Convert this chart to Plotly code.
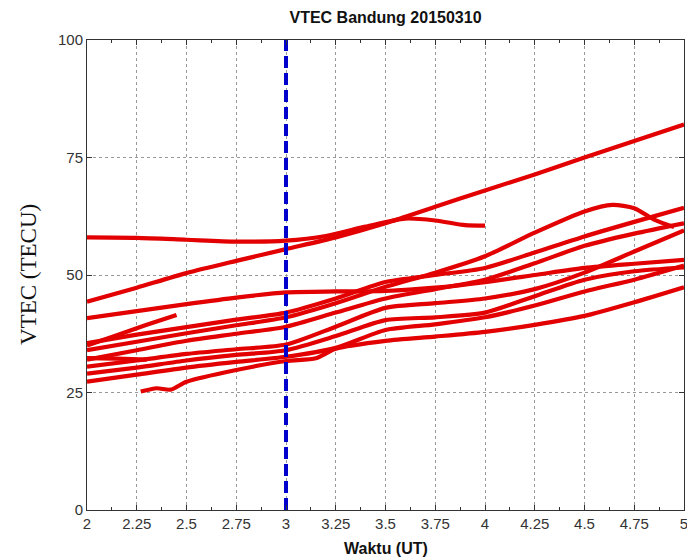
import plotly.graph_objects as go

# ---- data ----
knots = [2.0, 2.25, 2.5, 2.75, 3.0, 3.25, 3.5, 3.75, 4.0, 4.25, 4.5, 4.75, 5.0]

a_x = [2.0, 2.25, 2.5, 2.75, 3.0, 3.2, 3.4, 3.6, 3.75, 3.9, 4.0]
a_y = [58.0, 57.9, 57.5, 57.1, 57.3, 58.3, 60.3, 62.0, 61.6, 60.6, 60.5]

b_y = [44.3, 47.3, 50.4, 53.0, 55.5, 58.0, 61.0, 64.5, 68.0, 71.4, 75.0, 78.5, 82.0]
c_y = [40.8, 42.3, 43.8, 45.2, 46.3, 46.5, 46.6, 47.3, 48.5, 50.0, 51.5, 52.4, 53.2]

h_x = [2.0, 2.25, 2.5, 2.75, 3.0, 3.25, 3.5, 3.75, 4.0, 4.25, 4.5, 4.64, 4.75, 4.85, 4.95]
h_y = [34.0, 35.8, 37.6, 39.3, 41.0, 44.0, 47.5, 50.5, 54.0, 59.0, 63.5, 64.9, 64.2, 61.8, 60.2]

l5_y = [35.5, 37.3, 38.9, 40.5, 42.0, 45.0, 48.5, 50.0, 51.5, 54.8, 58.2, 61.3, 64.3]
l6_y = [32.0, 34.0, 36.0, 37.5, 39.0, 42.0, 45.0, 47.0, 49.0, 52.5, 56.2, 58.8, 61.0]
l7_y = [30.5, 31.8, 33.2, 34.2, 35.2, 39.0, 43.0, 44.0, 45.0, 47.0, 50.5, 55.0, 59.5]
l9_y = [29.0, 30.3, 31.8, 33.0, 34.0, 37.0, 40.4, 41.0, 42.0, 45.5, 49.0, 50.8, 51.6]
l11_y = [27.3, 28.8, 30.3, 31.5, 32.6, 34.5, 38.3, 39.5, 41.0, 43.5, 46.5, 49.0, 52.0]

l10_x = [2.27, 2.35, 2.42, 2.5, 2.75, 3.0, 3.15, 3.25, 3.5, 3.75, 4.0, 4.25, 4.5, 4.75, 5.0]
l10_y = [25.2, 25.9, 25.6, 27.3, 29.8, 31.7, 32.3, 34.3, 36.0, 36.9, 37.9, 39.4, 41.3, 44.2, 47.4]

s1_x = [2.0, 2.15, 2.3, 2.45]
s1_y = [35.0, 37.2, 39.4, 41.5]
s2_x = [2.0, 2.15, 2.3]
s2_y = [32.3, 32.2, 32.0]

marker_time = [3.0, 3.0]
marker_span = [0, 100]

x_ticks = [2, 2.25, 2.5, 2.75, 3, 3.25, 3.5, 3.75, 4, 4.25, 4.5, 4.75, 5]
x_tick_text = ["2", "2.25", "2.5", "2.75", "3", "3.25", "3.5", "3.75", "4", "4.25", "4.5", "4.75", "5"]
y_ticks = [0, 25, 50, 75, 100]

series = [
    (a_x, a_y), (knots, b_y), (knots, c_y), (h_x, h_y), (knots, l5_y),
    (knots, l6_y), (knots, l7_y), (knots, l9_y), (knots, l11_y),
    (l10_x, l10_y), (s1_x, s1_y), (s2_x, s2_y),
]

RED = "rgb(226,0,0)"
fig = go.Figure()
for sx, sy in series:
    fig.add_trace(go.Scatter(x=sx, y=sy, mode="lines",
                             line=dict(color=RED, width=4.2, shape="spline", smoothing=0.7),
                             showlegend=False, hoverinfo="skip"))

fig.add_trace(go.Scatter(x=marker_time, y=marker_span, mode="lines",
                         line=dict(color="#0000CC", width=4, dash="12px,5px"),
                         showlegend=False, hoverinfo="skip"))

axis_common = dict(
    showline=True, linecolor="#333", linewidth=1, mirror="ticks",
    ticks="inside", ticklen=5, tickcolor="#333",
    showgrid=True, gridcolor="#999", griddash="dot", gridwidth=1,
    zeroline=False, ticklabeloverflow="allow", automargin=False,
    tickfont=dict(family="Liberation Sans, Arial, sans-serif", size=15, color="#333"),
)

fig.update_xaxes(range=[2, 5], tickvals=x_ticks, ticktext=x_tick_text,
                 minor=dict(dtick=0.125, tick0=2, ticks="inside", ticklen=3, tickcolor="#333", showgrid=False),
                 **axis_common)
fig.update_yaxes(range=[0, 100], tickvals=y_ticks, **axis_common)

fig.update_layout(
    width=687, height=558,
    margin=dict(l=87, r=3, t=40, b=48, autoexpand=False),
    plot_bgcolor="white", paper_bgcolor="white",
    title=dict(text="<b>VTEC Bandung 20150310</b>", x=0.5, xref="paper", xanchor="center",
               y=1 - 17 / 558, yref="container", yanchor="middle",
               font=dict(family="Liberation Sans, Arial, sans-serif", size=16, color="#111")),
    annotations=[
        dict(text="<b>Waktu (UT)</b>", xref="paper", yref="paper", x=0.5, y=0,
             yshift=-38, xanchor="center", yanchor="middle", showarrow=False,
             font=dict(family="Liberation Sans, Arial, sans-serif", size=16, color="#111")),
        dict(text="VTEC (TECU)", xref="paper", yref="paper", x=0, y=0.5, xshift=-59,
             textangle=-90, xanchor="center", yanchor="middle", showarrow=False,
             font=dict(family="Liberation Serif, Times New Roman, serif", size=23, color="#111")),
    ],
)

fig.write_html("out.html")
